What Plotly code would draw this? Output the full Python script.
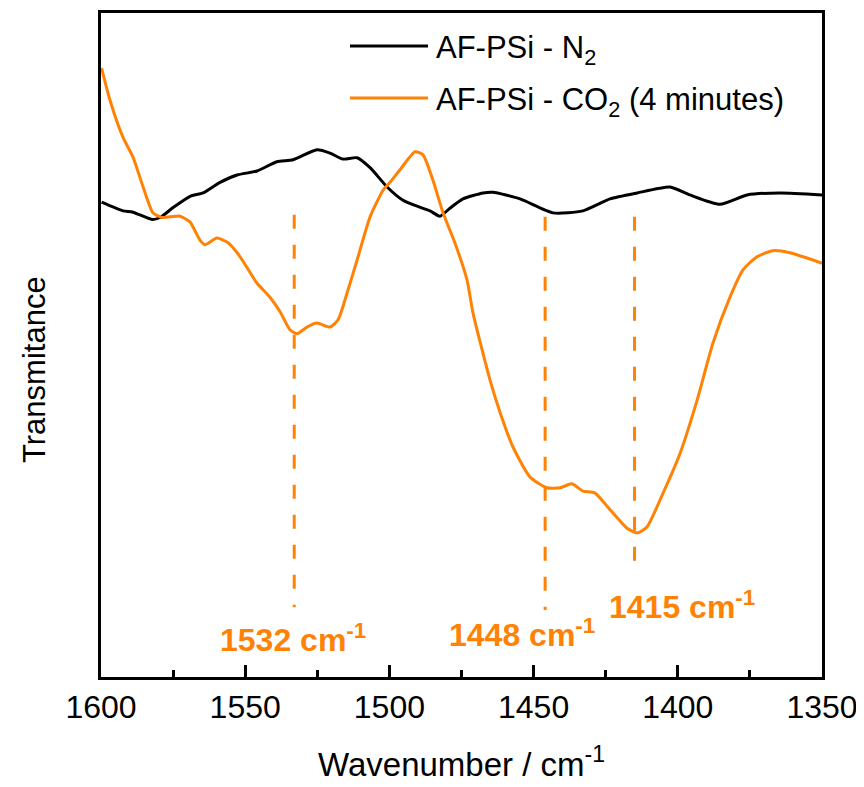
import plotly.graph_objects as go

# ---- data ----
n2_wavenumber = [1599.8, 1592.4, 1588.9, 1582.3, 1579.5, 1575.0, 1569.1, 1564.6, 1558.7, 1552.8,
                 1545.9, 1539.0, 1533.4, 1525.1, 1520.6, 1516.1, 1511.2, 1506.7, 1500.8, 1495.3,
                 1490.4, 1485.9, 1482.5, 1479.0, 1474.5, 1467.5, 1464.1, 1454.7, 1443.3, 1432.9,
                 1423.5, 1414.1, 1402.7, 1395.8, 1385.4, 1376.0, 1364.6, 1350.0]
n2_trans = [71.5, 70.2, 70.0, 68.9, 69.2, 70.7, 72.4, 72.9, 74.5, 75.6,
            76.2, 77.6, 77.9, 79.4, 78.9, 78.0, 78.2, 76.7, 73.8, 71.8,
            70.9, 70.2, 69.4, 70.6, 72.0, 72.9, 73.0, 72.0, 69.9, 70.2,
            72.0, 72.9, 73.8, 72.6, 71.2, 72.6, 72.9, 72.6]

co2_wavenumber = [1599.8, 1596.9, 1592.4, 1588.9, 1585.4, 1582.0, 1578.8, 1572.6, 1569.1, 1565.7,
                  1563.9, 1559.8, 1556.3, 1552.8, 1549.4, 1545.9, 1541.4, 1537.9, 1534.5, 1532.0,
                  1528.6, 1525.1, 1520.6, 1517.8, 1514.7, 1511.2, 1506.7, 1502.2, 1499.8, 1496.3,
                  1491.1, 1488.3, 1484.9, 1481.4, 1477.3, 1473.1, 1471.0, 1465.1, 1461.6, 1457.1,
                  1451.2, 1445.4, 1440.8, 1436.7, 1432.9, 1428.7, 1423.5, 1417.6, 1414.1, 1410.7,
                  1405.1, 1399.2, 1393.3, 1387.8, 1381.9, 1377.4, 1372.5, 1367.0, 1361.1, 1355.2,
                  1350.0]
co2_trans = [91.7, 86.9, 81.3, 78.3, 73.8, 69.9, 69.2, 69.4, 68.5, 65.8,
             65.1, 66.1, 65.5, 63.9, 61.7, 59.3, 57.2, 55.0, 52.3, 51.7,
             52.7, 53.3, 52.7, 53.8, 57.8, 62.8, 69.3, 73.3, 74.5, 76.4,
             79.1, 78.6, 74.8, 69.9, 65.4, 59.8, 54.8, 44.7, 39.8, 34.6,
             30.1, 28.5, 28.5, 29.1, 28.0, 27.7, 25.2, 22.4, 21.7, 22.6,
             27.7, 33.7, 41.7, 50.3, 57.2, 61.3, 63.3, 64.2, 63.9, 63.1,
             62.3]

peak_labels = ["1532 cm<sup>-1</sup>", "1448 cm<sup>-1</sup>", "1415 cm<sup>-1</sup>"]
peak_line_x = [1533, 1446, 1415]
peak_line_top = [69.6, 69.3, 69.3]
peak_line_bottom = [10.5, 10.1, 15.1]
peak_label_x = [1533.5, 1454.0, 1398.5]
peak_label_y = [5.8, 6.6, 10.9]

series_names = ["AF-PSi - N<sub>2</sub>", "AF-PSi - CO<sub>2</sub> (4 minutes)"]
x_ticks = [1600, 1550, 1500, 1450, 1400, 1350]
x_minor_ticks = [1575, 1525, 1475, 1425, 1375]

BLACK = "#000000"
ORANGE = "#FF8205"
FONT = "Liberation Sans, Arial, sans-serif"

# page offset (default body margin of the html page)
OFF = 8
FIG_W, FIG_H = 864 - OFF, 787 - OFF
# plot-area geometry (page pixels)
L, R, T, B = 101, 822, 13, 677
W, H = R - L, B - T

def px(xp):
    return (xp - L) / W

def py(yp):
    return (B - yp) / H

fig = go.Figure()
fig.add_trace(go.Scatter(x=n2_wavenumber, y=n2_trans, mode="lines",
                         line=dict(color=BLACK, width=3, shape="spline", smoothing=0.6),
                         name=series_names[0], showlegend=False))
fig.add_trace(go.Scatter(x=co2_wavenumber, y=co2_trans, mode="lines",
                         line=dict(color=ORANGE, width=3, shape="spline", smoothing=0.6),
                         name=series_names[1], showlegend=False))

for xv, top, bot in zip(peak_line_x, peak_line_top, peak_line_bottom):
    fig.add_trace(go.Scatter(x=[xv, xv], y=[top, bot], mode="lines",
                             line=dict(color=ORANGE, width=3, dash="14px,16px"),
                             showlegend=False, hoverinfo="skip"))

annotations = []
for txt, xv, yv in zip(peak_labels, peak_label_x, peak_label_y):
    annotations.append(dict(x=xv, y=yv, xref="x", yref="y", text="<b>" + txt + "</b>",
                            showarrow=False, xanchor="center", yanchor="middle",
                            font=dict(family=FONT, size=32, color=ORANGE)))

# manual legend
legend_colors = [BLACK, ORANGE]
legend_line_y = [46, 98]
legend_text_y = [50, 102]
shapes = []
for col, ly, ty, name in zip(legend_colors, legend_line_y, legend_text_y, series_names):
    shapes.append(dict(type="line", xref="paper", yref="paper", x0=px(350), x1=px(428),
                       y0=py(ly), y1=py(ly), line=dict(color=col, width=3)))
    annotations.append(dict(x=px(434), y=py(ty), xref="paper", yref="paper", text=name,
                            showarrow=False, xanchor="left", yanchor="middle",
                            font=dict(family=FONT, size=31, color="#000000")))

# axis titles
annotations.append(dict(x=px(461), y=py(762), xref="paper", yref="paper",
                        text="Wavenumber / cm<sup>-1</sup>", showarrow=False,
                        xanchor="center", yanchor="middle",
                        font=dict(family=FONT, size=33, color="#000000")))
annotations.append(dict(x=px(34), y=py(370), xref="paper", yref="paper",
                        text="Transmitance", textangle=-90, showarrow=False,
                        xanchor="center", yanchor="middle",
                        font=dict(family=FONT, size=31, color="#000000")))

fig.update_layout(
    width=FIG_W, height=FIG_H,
    margin=dict(l=L - OFF, r=864 - R, t=T - OFF, b=787 - B, autoexpand=False),
    paper_bgcolor="white", plot_bgcolor="white",
    font=dict(family=FONT, size=30, color="#000000"),
    showlegend=False,
    shapes=shapes,
    annotations=annotations,
)

fig.update_xaxes(range=[1600, 1350], tickvals=x_ticks, ticks="inside", ticklen=12, tickwidth=2.5,
                 tickcolor="black", showline=True, linewidth=3, linecolor="black", mirror=True,
                 showgrid=False, zeroline=False, automargin=False,
                 tickfont=dict(family=FONT, size=32),
                 minor=dict(tickvals=x_minor_ticks, ticks="inside", ticklen=7,
                            tickwidth=2.5, tickcolor="black"))
fig.update_yaxes(range=[0, 100], showticklabels=False, ticks="", showline=True, linewidth=3,
                 linecolor="black", mirror=True, showgrid=False, zeroline=False, automargin=False)

fig.write_html("out.html")
